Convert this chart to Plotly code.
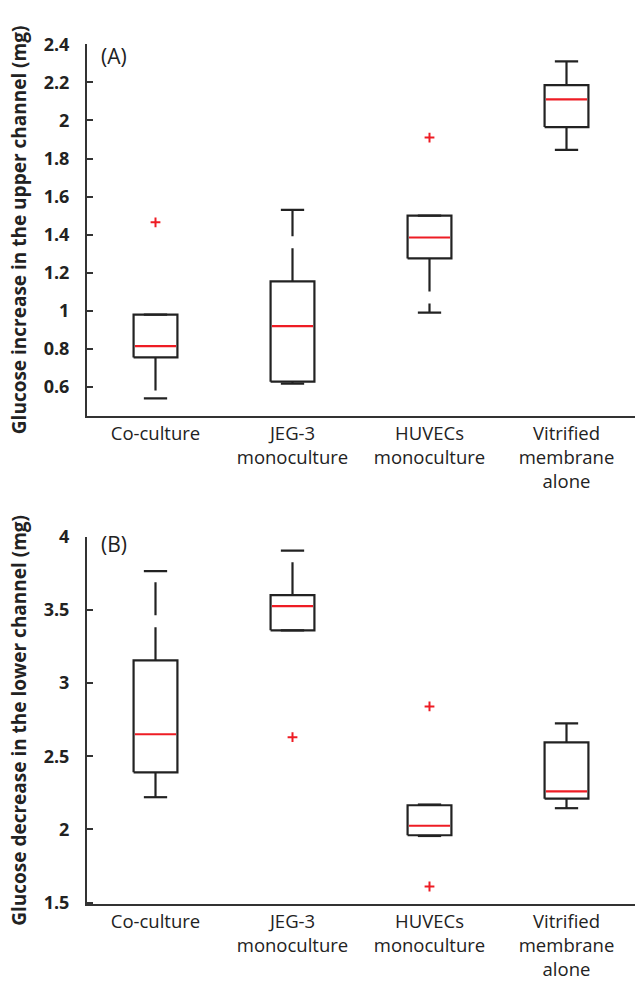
import plotly.graph_objects as go

categories = ["Co-culture", "JEG-3<br>monoculture", "HUVECs<br>monoculture", "Vitrified<br>membrane<br>alone"]

# Panel A: glucose increase in the upper channel (mg)
a_low = [0.54, 0.618, 0.99, 1.845]
a_q1 = [0.755, 0.628, 1.275, 1.965]
a_med = [0.815, 0.92, 1.385, 2.11]
a_q3 = [0.98, 1.155, 1.50, 2.185]
a_high = [0.98, 1.53, 1.50, 2.31]
a_out = [[1.465], [], [1.91], []]

# Panel B: glucose decrease in the lower channel (mg)
b_low = [2.22, 3.36, 1.955, 2.145]
b_q1 = [2.39, 3.36, 1.96, 2.21]
b_med = [2.65, 3.525, 2.025, 2.26]
b_q3 = [3.155, 3.60, 2.165, 2.595]
b_high = [3.765, 3.905, 2.17, 2.725]
b_out = [[], [2.63], [2.84, 1.61], []]

W = 639
H = 1001
BOX_HALF = 0.16
CAP_HALF = 0.085
BLACK = "#222222"
RED = "#ee1c24"

fig = go.Figure()


def add_panel(xa, ya, low, q1, med, q3, high, outs):
    for i in range(len(categories)):
        x = i + 1
        # box
        fig.add_trace(go.Scatter(
            x=[x - BOX_HALF, x + BOX_HALF, x + BOX_HALF, x - BOX_HALF, x - BOX_HALF],
            y=[q1[i], q1[i], q3[i], q3[i], q1[i]],
            mode="lines", line=dict(color=BLACK, width=2.2),
            xaxis=xa, yaxis=ya, showlegend=False, hoverinfo="skip"))
        # whiskers (dashed)
        for a, b in ((q3[i], high[i]), (q1[i], low[i])):
            if abs(a - b) > 1e-9:
                fig.add_trace(go.Scatter(
                    x=[x, x], y=[a, b], mode="lines",
                    line=dict(color=BLACK, width=2.2, dash="33px,12px"),
                    xaxis=xa, yaxis=ya, showlegend=False, hoverinfo="skip"))
        # caps
        for v in (high[i], low[i]):
            fig.add_trace(go.Scatter(
                x=[x - CAP_HALF, x + CAP_HALF], y=[v, v], mode="lines",
                line=dict(color=BLACK, width=2.2),
                xaxis=xa, yaxis=ya, showlegend=False, hoverinfo="skip"))
        # median
        fig.add_trace(go.Scatter(
            x=[x - BOX_HALF + 0.01, x + BOX_HALF - 0.01], y=[med[i], med[i]], mode="lines",
            line=dict(color=RED, width=2.2),
            xaxis=xa, yaxis=ya, showlegend=False, hoverinfo="skip"))
        # outliers
        if outs[i]:
            fig.add_trace(go.Scatter(
                x=[x] * len(outs[i]), y=outs[i], mode="markers",
                marker=dict(symbol="cross-thin", size=7, line=dict(color=RED, width=2)),
                xaxis=xa, yaxis=ya, showlegend=False, hoverinfo="skip"))


add_panel("x", "y", a_low, a_q1, a_med, a_q3, a_high, a_out)
add_panel("x2", "y2", b_low, b_q1, b_med, b_q3, b_high, b_out)

xdom = [87 / W, 635 / W]
ydomA = [1 - 412 / H, 1 - 32 / H]
ydomB = [1 - 912 / H, 1 - 536 / H]

FONT = "Open Sans"
axis_line = dict(showline=True, linecolor="#333333", linewidth=2, showgrid=False, zeroline=False)
xcommon = dict(axis_line, range=[0.5, 4.5], tickvals=[1, 2, 3, 4], ticktext=categories,
               ticks="", tickfont=dict(family=FONT, size=18.5, color="#222222"))
ycommon = dict(axis_line, ticks="inside", ticklen=6, tickwidth=2, tickcolor="#333333",
               tickfont=dict(family=FONT, size=18, color="#222222", weight="bold"),
               ticklabelstandoff=12)
title_font = dict(family=FONT, size=19, color="#222222", weight="bold")

fig.update_layout(
    width=W, height=H,
    margin=dict(l=0, r=0, t=0, b=0),
    paper_bgcolor="white", plot_bgcolor="white",
    xaxis=dict(xcommon, domain=xdom, anchor="y"),
    yaxis=dict(ycommon, domain=ydomA, anchor="x", range=[0.45, 2.4],
               tickvals=[0.6, 0.8, 1.0, 1.2, 1.4, 1.6, 1.8, 2.0, 2.2, 2.4],
               ticktext=["0.6", "0.8", "1", "1.2", "1.4", "1.6", "1.8", "2", "2.2", "2.4"],
               title=dict(text="Glucose increase in the upper channel (mg)", standoff=12,
                          font=title_font)),
    xaxis2=dict(xcommon, domain=xdom, anchor="y2"),
    yaxis2=dict(ycommon, domain=ydomB, anchor="x2", range=[1.49, 4.0],
                tickvals=[1.5, 2.0, 2.5, 3.0, 3.5, 4.0],
                ticktext=["1.5", "2", "2.5", "3", "3.5", "4"],
                title=dict(text="Glucose decrease in the lower channel (mg)", standoff=12,
                           font=title_font)),
    annotations=[
        dict(text="(A)", x=99 / W, y=1 - 44 / H, xref="paper", yref="paper",
             xanchor="left", yanchor="middle", showarrow=False,
             font=dict(family=FONT, size=21, color="#222222")),
        dict(text="(B)", x=99 / W, y=1 - 543 / H, xref="paper", yref="paper",
             xanchor="left", yanchor="middle", showarrow=False,
             font=dict(family=FONT, size=21, color="#222222")),
    ],
)

fig.write_html("out.html")
